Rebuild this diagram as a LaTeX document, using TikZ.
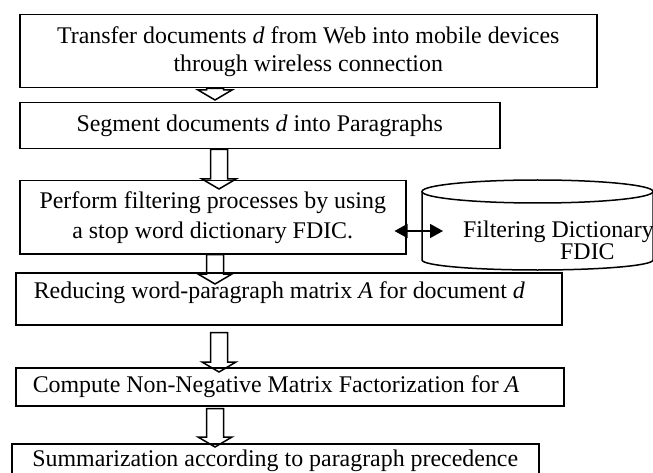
\documentclass[tikz,border=0pt]{standalone}
\usepackage{fontspec}
\setmainfont{Liberation Serif}
\usetikzlibrary{calc,arrows.meta}
% hollow down arrow between two boxes
\newcommand{\blockarrow}[2]{%
  \draw[hollow] let \p1=(#1), \p2=(#2) in
    (\x1-8.5pt,\y1) -- (\x1-8.5pt,\y2+10pt) -- (\x1-17pt,\y2+10pt) -- (\x2,\y2)
    -- (\x1+17pt,\y2+10pt) -- (\x1+8.5pt,\y2+10pt) -- (\x1+8.5pt,\y1) -- cycle;}
\begin{document}
\begin{tikzpicture}[x=1pt, y=-1pt, font=\fontsize{23.9}{28}\selectfont,
    stepbox/.style = {draw, line width=1.5pt, inner sep=0pt, anchor=north west, align=center},
    leftbox/.style = {stepbox, align=flush left, inner xsep=17pt},
    hollow/.style = {draw, line width=1.5pt, line join=miter},
    biarrow/.style = {{Triangle[length=13pt,width=14pt]}-{Triangle[length=13pt,width=14pt]}, line width=1.5pt}]
    \useasboundingbox (0,0) rectangle (653,473);
    \clip (0,0) rectangle (653,473);
    \node[stepbox, minimum width=577pt, minimum height=73pt] (b1) at (19,14)
        {Transfer documents \textit{d} from Web into mobile devices\\ through wireless connection};
    \node[stepbox, minimum width=480pt, minimum height=46pt] (b2) at (19,102)
        {Segment documents \textit{d} into Paragraphs};
    \node[stepbox, minimum width=386pt, minimum height=73pt] (b3) at (19,180)
        {Perform filtering processes by using\\[2pt] a stop word dictionary FDIC.};
    \node[leftbox, text width=510pt, inner xsep=18pt, text depth=17pt, minimum height=52pt] (b4) at (15,272)
        {Reducing word-paragraph matrix \textit{A} for document \textit{d}};
    \node[leftbox, text width=514pt, minimum height=38pt] (b5) at (15,367)
        {Compute Non-Negative Matrix Factorization for \textit{A}};
    \node[stepbox, minimum width=527pt, minimum height=35pt] (b6) at (11,443)
        {Summarization according to paragraph precedence};
    %dictionary
    \draw[line width=1.5pt] (422,191.5) -- (422,260)
        arc[start angle=180, end angle=360, x radius=115.5pt, y radius=10pt] -- (653,191.5);
    \draw[line width=1.5pt] (537.5,191.5) ellipse [x radius=115.5pt, y radius=11.5pt];
    \node[anchor=north west, inner sep=0pt, align=left] (dict) at (463,220.5)
        {Filtering Dictionary\\[-6pt]\hspace*{97pt}FDIC};
    \coordinate (dbin) at (443,231);
    \draw[biarrow] ($(b3.east |- dbin)+(-12pt,0)$) -- (dbin);
    %arrows
    \coordinate (ax) at (215,0);
    \coordinate (bx) at (219,0);
    \blockarrow{ax |- b1.south}{$(ax |- b2.north)+(0,2pt)$}
    \blockarrow{bx |- b2.south}{$(bx |- b3.north)+(0,-9pt)$}
    \blockarrow{ax |- b3.south}{$(ax |- b4.north)+(0,-12pt)$}
    \blockarrow{$(bx |- b4.south)+(0,-7pt)$}{$(bx |- b5.north)+(0,-5pt)$}
    \blockarrow{$(ax |- b5.south)+(0,-2pt)$}{$(ax |- b6.north)+(0,-4pt)$}
\end{tikzpicture}
\end{document}
